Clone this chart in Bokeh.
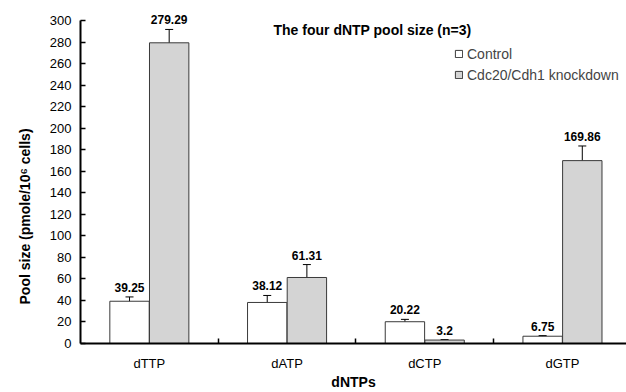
import math
from bokeh.plotting import figure
from bokeh.models import (Range1d, FixedTicker, Whisker, TeeHead, ColumnDataSource,
                          Label, LabelSet, Legend, LegendItem, Title)
from bokeh.core.properties import value
from bokeh.embed import file_html
from bokeh.resources import INLINE

# ---- data ----
categories = ["dTTP", "dATP", "dCTP", "dGTP"]
control = [39.25, 38.12, 20.22, 6.75]
knockdown = [279.29, 61.31, 3.2, 169.86]
control_err = [4.0, 6.5, 2.2, 0.6]
knockdown_err = [12.4, 12.0, 0.5, 13.6]
control_labels = ["39.25", "38.12", "20.22", "6.75"]
knockdown_labels = ["279.29", "61.31", "3.2", "169.86"]
y_ticks = [0, 20, 40, 60, 80, 100, 120, 140, 160, 180, 200, 220, 240, 260, 280, 300]
series_names = ["Control", "Cdc20/Cdh1 knockdown"]

FONT = "Liberation Sans"
BAR_W = 0.286
OFF = 0.144

centers = [i + 0.5 for i in range(len(categories))]

src_c = ColumnDataSource(dict(
    x=[c - OFF for c in centers], top=control,
    upper=[v + e for v, e in zip(control, control_err)],
    lower=[v - e for v, e in zip(control, control_err)],
    label=control_labels))
src_k = ColumnDataSource(dict(
    x=[c + OFF for c in centers], top=knockdown,
    upper=[v + e for v, e in zip(knockdown, knockdown_err)],
    lower=[v - e for v, e in zip(knockdown, knockdown_err)],
    label=knockdown_labels))

p = figure(width=626, height=392, x_range=Range1d(0, 3.965), y_range=Range1d(0, 314.86),
           output_backend="svg", toolbar_location=None,
           min_border_left=80, min_border_right=0, min_border_top=4, min_border_bottom=49)
p.xgrid.visible = False
p.ygrid.visible = False
p.outline_line_color = None
p.background_fill_color = "white"

r_c = p.vbar(x="x", top="top", width=BAR_W, bottom=0, source=src_c,
             fill_color="white", line_color="#3a3a3a", line_width=1)
r_k = p.vbar(x="x", top="top", width=BAR_W, bottom=0, source=src_k,
             fill_color="#d4d4d4", line_color="#3a3a3a", line_width=1)

for src in (src_c, src_k):
    w = Whisker(source=src, base="x", upper="upper", lower="lower",
                line_color="black", line_width=1,
                upper_head=TeeHead(size=8, line_width=1, line_color="black"),
                lower_head=TeeHead(size=8, line_width=1, line_color="black"))
    p.add_layout(w)
    ls = LabelSet(source=src, x="x", y="upper", text="label", y_offset=5,
                  text_align="center", text_baseline="alphabetic",
                  text_font=value(FONT), text_font_style="bold",
                  text_font_size="12px", text_color="black")
    p.add_layout(ls)

# y axis
ya = p.yaxis[0]
ya.ticker = FixedTicker(ticks=y_ticks)
ya.bounds = (0, 300)
ya.axis_line_width = 2
ya.axis_line_color = "black"
ya.major_tick_in = 5
ya.major_tick_out = 0
ya.major_tick_line_width = 1.5
ya.minor_tick_line_color = None
ya.major_label_standoff = 9
ya.major_label_text_font = FONT
ya.major_label_text_font_size = "13px"
ya.major_label_text_color = "black"

# x axis
xa = p.xaxis[0]
xa.ticker = FixedTicker(ticks=centers, minor_ticks=[i for i in range(1, len(categories))])
xa.major_label_overrides = {c: name for c, name in zip(centers, categories)}
xa.axis_line_width = 2
xa.axis_line_color = "black"
xa.major_tick_in = 0
xa.major_tick_out = 0
xa.minor_tick_in = 5
xa.minor_tick_out = 0
xa.minor_tick_line_width = 1.5
xa.minor_tick_line_color = "black"
xa.major_label_standoff = 12
xa.major_label_text_font = FONT
xa.major_label_text_font_size = "13px"
xa.major_label_text_color = "black"
xa.axis_label = "dNTPs"
xa.axis_label_standoff = 0
xa.axis_label_text_font = FONT
xa.axis_label_text_font_size = "14px"
xa.axis_label_text_font_style = "bold"
xa.axis_label_text_color = "black"

# y axis label as a left title (shifted down like the reference)
p.add_layout(Title(text="Pool size (pmole/10\u2076 cells)", align="left", offset=39,
                   standoff=27, text_font=FONT, text_font_size="14px",
                   text_font_style="bold", text_color="black"), "left")

# chart title
p.add_layout(Label(x=193, y=314, x_units="screen", y_units="screen",
                   text="The four dNTP pool size (n=3)", text_font=FONT,
                   text_font_style="bold", text_font_size="14px",
                   text_align="left", text_baseline="middle", text_color="black"))

legend = Legend(items=[LegendItem(label=series_names[0], renderers=[r_c]),
                       LegendItem(label=series_names[1], renderers=[r_k])],
                location=(374, 260), padding=0, margin=0, spacing=4,
                glyph_width=9, glyph_height=9, label_standoff=4, label_height=17,
                label_text_font=FONT, label_text_font_size="14px",
                border_line_color=None, background_fill_alpha=0)
p.add_layout(legend)

open("out.html", "w").write(file_html(p, INLINE))
